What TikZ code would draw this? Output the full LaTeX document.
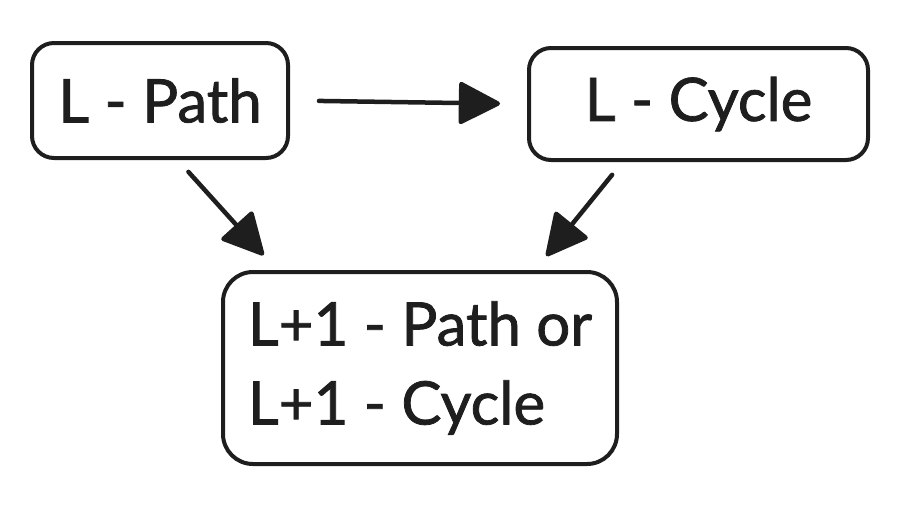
\documentclass[tikz,border=0pt]{standalone}
\usepackage{fontspec}
\setmainfont{Lato}[FakeBold=1.3]
\usepackage{xcolor}
\usetikzlibrary{arrows.meta,positioning}
\definecolor{ink}{HTML}{1E1E1E}

\begin{document}
\begin{tikzpicture}[
    x=1pt, y=-1pt,
    box/.style={rectangle, draw=ink, line width=4pt, rounded corners=22pt, text=ink,
        font=\fontsize{60}{79}\selectfont, inner sep=0pt, align=left},
    arrow/.style={-{Triangle[length=44pt,width=44pt,round]}, draw=ink, line width=4.5pt, line cap=round}
]
    \useasboundingbox (0,0) rectangle (902,512);

    \node[box, minimum width=256pt, minimum height=115pt] (path) at (160,100.5) {L - Path};
    \node[box, minimum width=339pt, minimum height=112pt] (cycle) at (698.5,104) {L - Cycle};
    \node[box, rounded corners=30pt, minimum width=394pt, minimum height=192pt] (next) at (420,368)
        {L+1 - Path or\\L+1 - Cycle};

    \draw[arrow, shorten <=29pt, shorten >=27pt] (path.east) -- (cycle.west);
    \draw[arrow, shorten <=16pt, shorten >=20pt] ([xshift=17.7pt]path.south) -- ([xshift=-143pt]next.north);
    \draw[arrow, shorten <=16.5pt, shorten >=18pt] ([xshift=-76pt]cycle.south) -- ([xshift=115pt]next.north);
\end{tikzpicture}
\end{document}
